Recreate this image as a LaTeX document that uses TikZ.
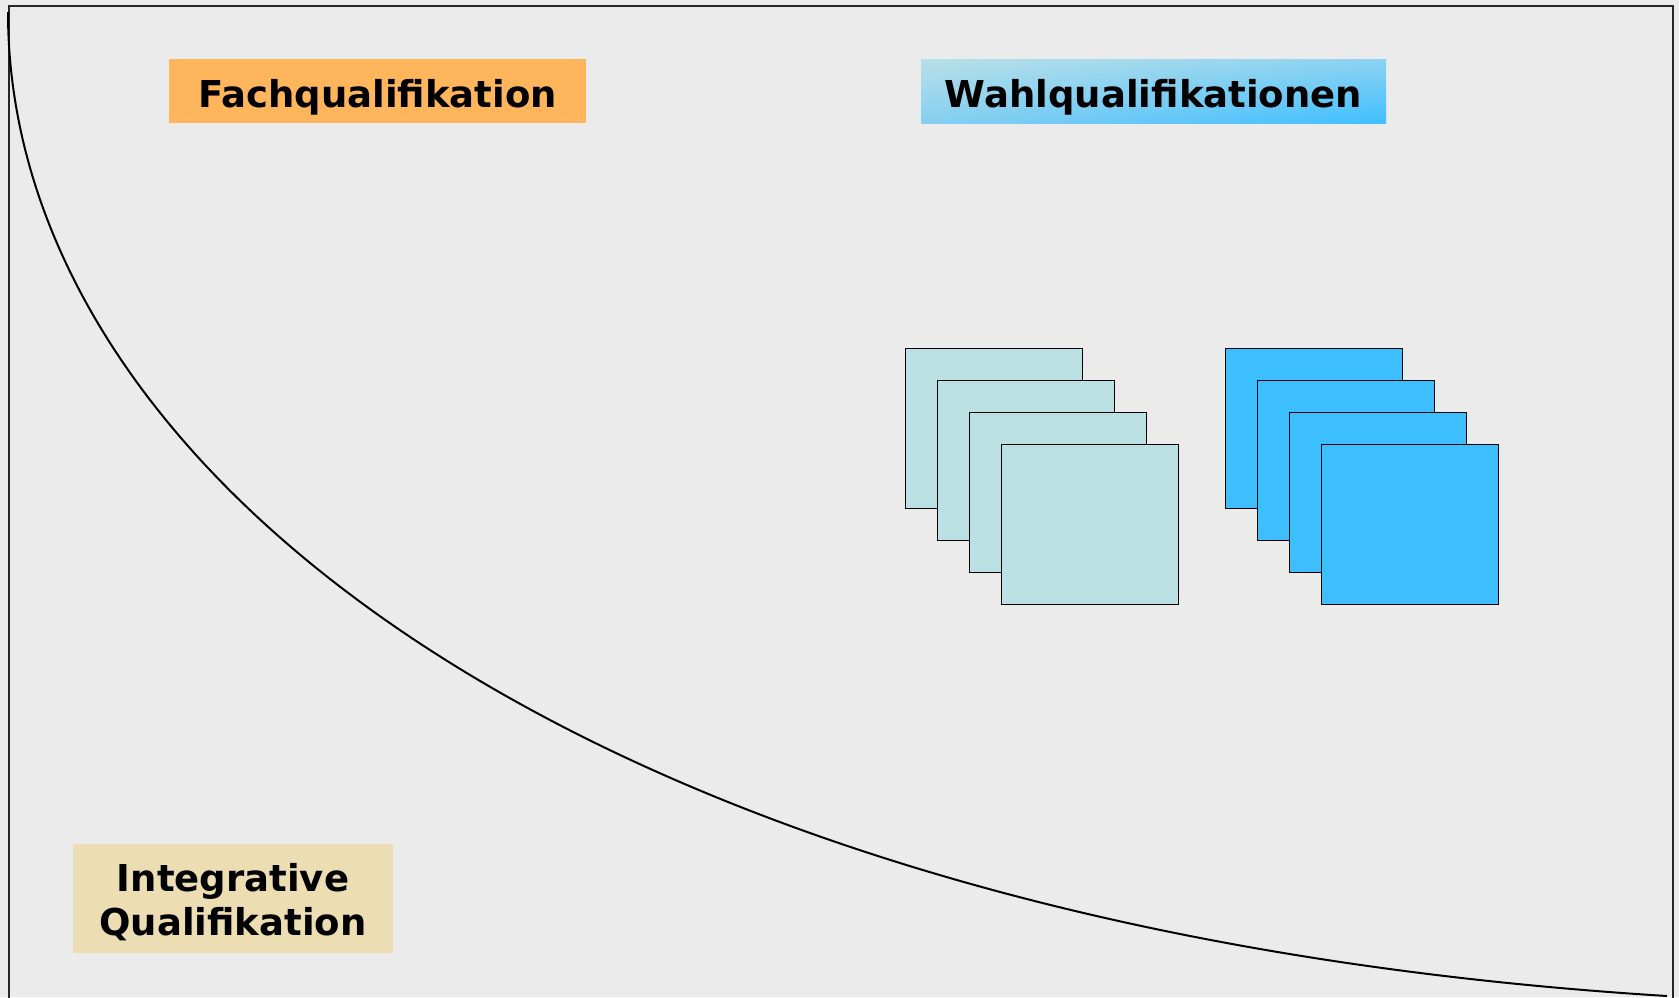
\documentclass[tikz,border=0pt]{standalone}
\usepackage{fontspec}
\usetikzlibrary{shadings}
\setmainfont{DejaVu Sans}
\definecolor{bgc}{RGB}{235,235,235}
\definecolor{fachc}{RGB}{255,181,92}
\definecolor{integc}{RGB}{236,222,178}
\definecolor{lightc}{RGB}{187,224,227}
\definecolor{bluec}{RGB}{61,190,255}
\definecolor{wul}{RGB}{184,224,232}
\definecolor{wur}{RGB}{140,210,242}
\definecolor{wll}{RGB}{134,207,240}
\definecolor{wlr}{RGB}{64,191,255}
\begin{document}
\begin{tikzpicture}[x=1pt,y=-1pt,
  frameline/.style={line width=2pt, draw=black!85},
  curveline/.style={line width=2pt, draw=black},
  lbl/.style={inner sep=0pt, font=\fontsize{37}{44}\selectfont\bfseries, align=center, text=black},
  card/.style={draw=black, line width=1.3pt, minimum width=176.5pt, minimum height=160pt, inner sep=0pt, anchor=north west}]
\fill[bgc] (0,0) rectangle (1679,997);
\useasboundingbox (0,0) rectangle (1679,997);
% frame
\coordinate (fbl) at (9,1010);
\coordinate (ftl) at (9,6);
\coordinate (ftr) at (1673,6);
\coordinate (fbr) at (1673,1010);
\draw[frameline] (fbl) -- (ftl) -- (ftr) -- (fbr);
% curve
\coordinate (cs) at (8,12);
\coordinate (ce) at (1667,996);
\draw[curveline] (cs) .. controls (8,480) and (600,930) .. (ce);
% labels
\node[lbl, fill=fachc, minimum width=417pt, minimum height=64pt, text height=32pt, text depth=0pt] (fach) at (377.5,91) {Fachqualifikation};
\node[lbl, upper left=wul, upper right=wur, lower left=wll, lower right=wlr, minimum width=465pt, minimum height=64pt, text height=32pt, text depth=0pt] (wahl) at (1153.5,91) {Wahlqualifikationen};
\node[inner sep=0pt, fill=integc, minimum width=320pt, minimum height=109pt] (integ) at (233,898.5) {};
\node[lbl] (integt) at ([yshift=-4pt]integ.center) {Integrative\\Qualifikation};
% light cards
\node[card, fill=lightc] (l1) at (905,348) {};
\node[card, fill=lightc] (l2) at (937,380) {};
\node[card, fill=lightc] (l3) at (969,412) {};
\node[card, fill=lightc] (l4) at (1001,444) {};
% blue cards
\node[card, fill=bluec] (b1) at (1225,348) {};
\node[card, fill=bluec] (b2) at (1257,380) {};
\node[card, fill=bluec] (b3) at (1289,412) {};
\node[card, fill=bluec] (b4) at (1321,444) {};
\end{tikzpicture}
\end{document}
